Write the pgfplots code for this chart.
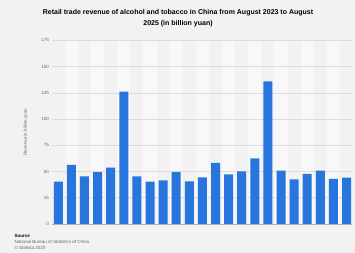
\documentclass[border=0pt]{standalone}
\usepackage{pgfplots}
\pgfplotsset{compat=1.18}
\usepackage{fontspec}
\setmainfont{Liberation Sans}
\definecolor{bg}{HTML}{F2F2F2}
\definecolor{stripe}{HTML}{F8F8F8}
\definecolor{barblue}{HTML}{2876DD}
\definecolor{gridc}{HTML}{DCDCDC}
\definecolor{txt}{HTML}{666666}
\pagecolor{bg}
\begin{document}
\begin{tikzpicture}[x=1pt,y=1pt]
\path (0,0) rectangle (355,253);
\node[align=center,font=\fontsize{7}{11}\selectfont\bfseries] at (178,235) {Retail trade revenue of alcohol and tobacco in China from August 2023 to August\\2025 (in billion yuan)};
\begin{axis}[
  set layers,
  at={(40,27.7)}, anchor=south west,
  scale only axis, width=300pt, height=183.6pt,
  xmin=0.55, xmax=23.45, ymin=0, ymax=175,
  ytick={0,25,...,175},
  xtick=\empty,
  ymajorgrids, grid style={gridc, line width=0.5pt},
  axis x line*=bottom, axis y line*=left,
  major tick length=0pt,
  y axis line style={draw=none},
  x axis line style={draw=gridc!80!black, line width=0.6pt},
  tick label style={font=\fontsize{4.5}{5}\selectfont, text=txt},
  /pgf/number format/assume math mode=true,
  ylabel={Revenue in billion yuan},
  ylabel style={font=\fontsize{4.5}{5}\selectfont, text=txt, at={(axis description cs:-0.07,0.5)}},
  ybar, bar width=9pt,
]
\begin{pgfonlayer}{axis background}
\pgfplotsinvokeforeach{2,4,...,22}{\fill[stripe] (axis cs:{#1-0.5},0) rectangle (axis cs:{#1+0.5},175);}
\end{pgfonlayer}
\addplot[fill=barblue, draw=none] coordinates {
(1,40.3) (2,56.2) (3,45.3) (4,49.5) (5,53.6) (6,126.0) (7,45.3) (8,40.3)
(9,41.5) (10,49.5) (11,40.6) (12,44.4) (13,58.1) (14,47.2) (15,50.1) (16,62.5)
(17,135.8) (18,50.8) (19,42.5) (20,47.6) (21,50.8) (22,42.9) (23,44.1)};
\end{axis}
\node[anchor=west,font=\fontsize{4.5}{5}\selectfont\bfseries] at (11,17) {Source};
\node[anchor=west,font=\fontsize{4.5}{5}\selectfont, text=txt] at (11,11) {National Bureau of Statistics of China};
\node[anchor=west,font=\fontsize{4.5}{5}\selectfont, text=txt] at (11,5) {\textcopyright{} Statista 2025};
\end{tikzpicture}
\end{document}
